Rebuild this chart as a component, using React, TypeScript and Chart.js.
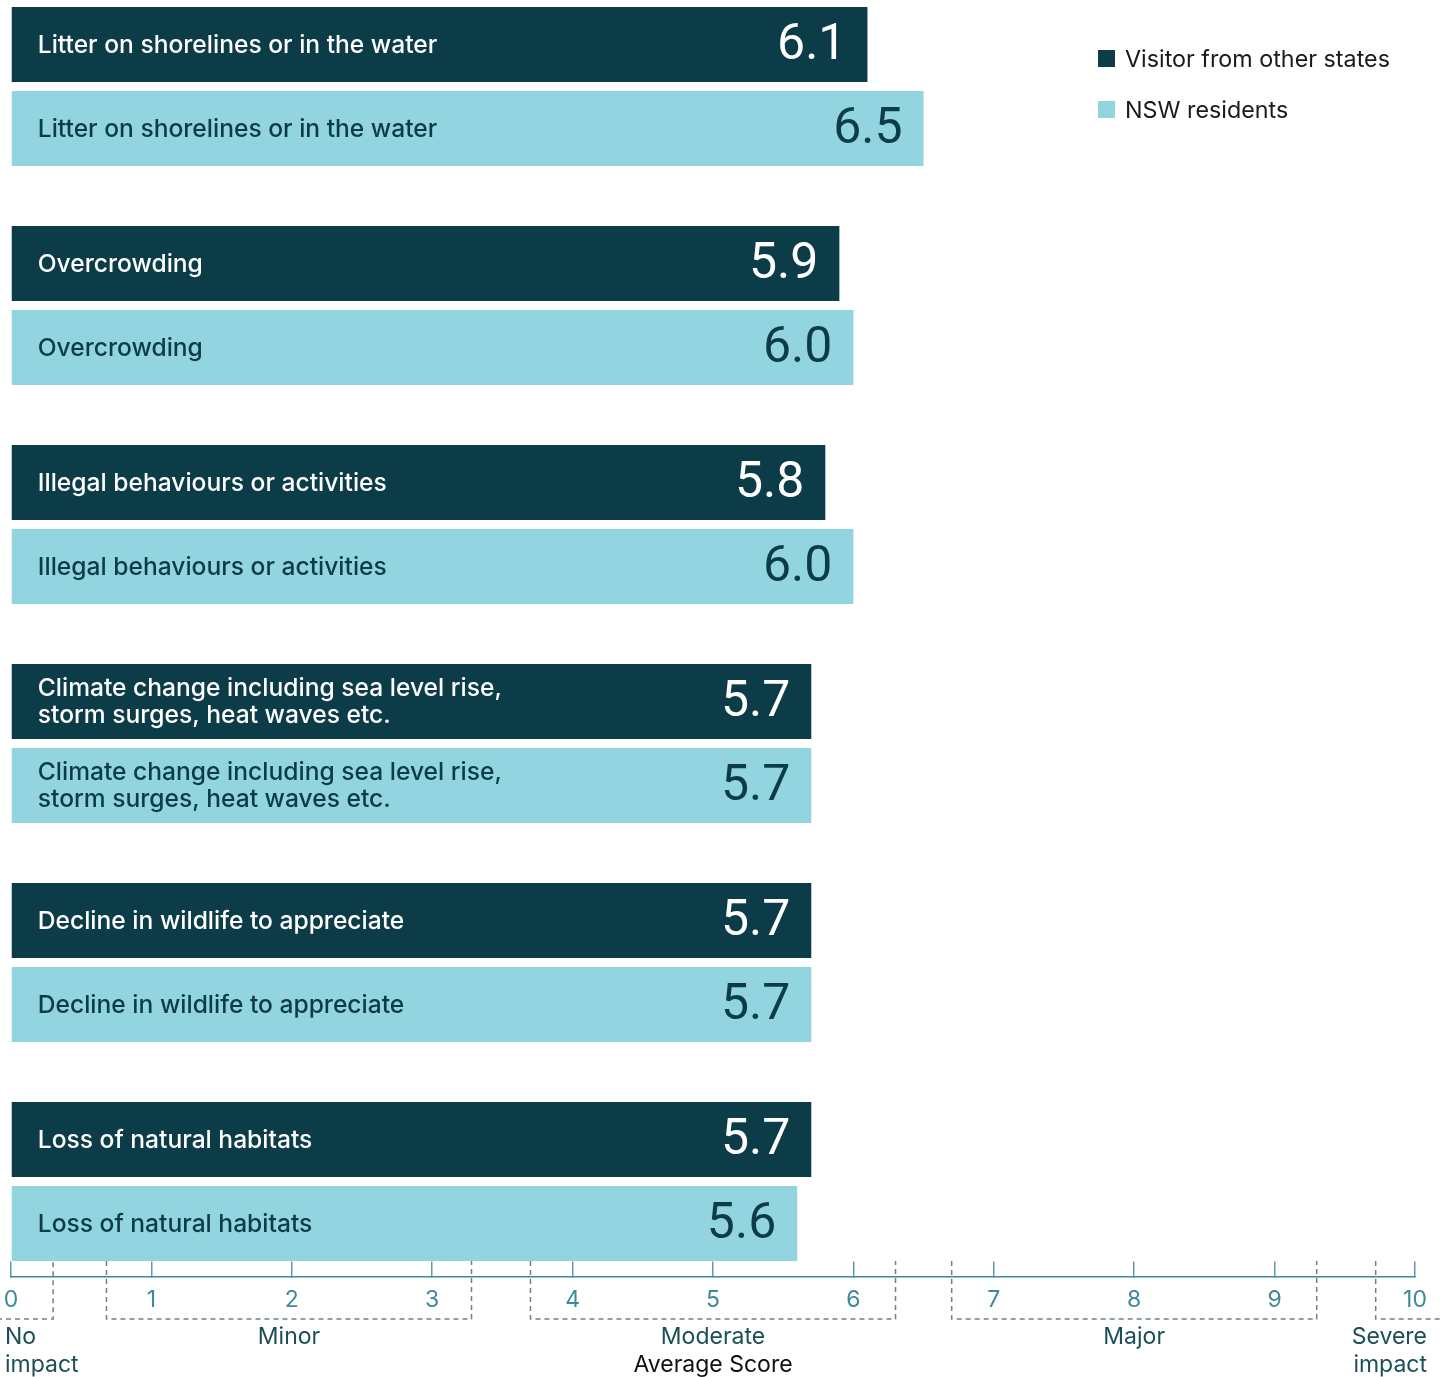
import React, { useEffect, useRef } from "react";
import { Chart, registerables } from "chart.js";

Chart.register(...registerables);

const categories: string[][] = [
  ["Litter on shorelines or in the water"],
  ["Overcrowding"],
  ["Illegal behaviours or activities"],
  ["Climate change including sea level rise,", "storm surges, heat waves etc."],
  ["Decline in wildlife to appreciate"],
  ["Loss of natural habitats"],
];
const visitorValues: number[] = [6.1, 5.9, 5.8, 5.7, 5.7, 5.7];
const nswValues: number[] = [6.5, 6.0, 6.0, 5.7, 5.7, 5.6];
const seriesNames: string[] = ["Visitor from other states", "NSW residents"];
const xTicks: number[] = [0, 1, 2, 3, 4, 5, 6, 7, 8, 9, 10];
const impactBands: { label: string[]; from: number; to: number; align: string }[] = [
  { label: ["No", "impact"], from: -0.1, to: 0.3, align: "left" },
  { label: ["Minor"], from: 0.68, to: 3.28, align: "center" },
  { label: ["Moderate"], from: 3.7, to: 6.3, align: "center" },
  { label: ["Major"], from: 6.7, to: 9.3, align: "center" },
  { label: ["Severe", "impact"], from: 9.72, to: 10.3, align: "right" },
];
const axisTitle = "Average Score";

const DARK = "#0b3c47";
const LIGHT = "#92d5e0";
const TEAL = "#3d8a98";
const LABEL_FONT = "Inter";
const VALUE_FONT = "Roboto";

export default function App() {
  const ref = useRef<HTMLCanvasElement | null>(null);

  useEffect(() => {
    if (!ref.current) return;
    const axisPos = 5.436;

    const barLabels = {
      id: "barLabels",
      afterDatasetsDraw(chart: any) {
        const ctx = chart.ctx;
        ctx.save();
        chart.data.datasets.forEach((ds: any, di: number) => {
          const meta = chart.getDatasetMeta(di);
          const textColor = di === 0 ? "#ffffff" : DARK;
          meta.data.forEach((el: any, i: number) => {
            const lines = categories[i];
            const start = Math.min(el.x, el.base);
            const end = Math.max(el.x, el.base);
            ctx.fillStyle = textColor;
            ctx.font = `500 24.6px ${LABEL_FONT}`;
            ctx.textAlign = "left";
            ctx.textBaseline = "middle";
            const lh = 27;
            lines.forEach((line, li) => {
              ctx.fillText(line, start + 26, el.y + 1 + (li - (lines.length - 1) / 2) * lh);
            });
            ctx.font = `400 50px ${VALUE_FONT}`;
            ctx.textAlign = "right";
            ctx.fillText(Number(ds.data[i]).toFixed(1), end - 21, el.y + 2);
          });
        });
        ctx.restore();
      },
    };

    const extras = {
      id: "extras",
      afterDraw(chart: any) {
        const ctx = chart.ctx;
        const xs = chart.scales.x;
        const ys = chart.scales.y;
        const axisY = ys.getPixelForValue(axisPos);
        ctx.save();
        ctx.strokeStyle = "#6b8388";
        ctx.lineWidth = 1.5;
        ctx.setLineDash([5, 4]);
        const top = axisY - 16;
        const bot = axisY + 42;
        impactBands.forEach((b) => {
          const x1 = xs.getPixelForValue(b.from);
          const x2 = xs.getPixelForValue(b.to);
          ctx.beginPath();
          if (b.align !== "left") {
            ctx.moveTo(x1, top);
            ctx.lineTo(x1, bot);
          } else {
            ctx.moveTo(x1, bot);
          }
          ctx.lineTo(x2, bot);
          if (b.align !== "right") ctx.lineTo(x2, top);
          ctx.stroke();
        });
        ctx.setLineDash([]);
        ctx.fillStyle = "#1a4f58";
        ctx.font = `400 23px ${LABEL_FONT}`;
        ctx.textBaseline = "middle";
        impactBands.forEach((b) => {
          let x: number;
          if (b.align === "left") {
            x = xs.getPixelForValue(0) - 6;
            ctx.textAlign = "left";
          } else if (b.align === "right") {
            x = xs.getPixelForValue(10) + 12;
            ctx.textAlign = "right";
          } else {
            x = xs.getPixelForValue((b.from + b.to) / 2);
            ctx.textAlign = "center";
          }
          b.label.forEach((line, li) => {
            ctx.fillText(line, x, axisY + 60 + li * 28);
          });
        });
        ctx.fillStyle = "#111111";
        ctx.textAlign = "center";
        ctx.fillText(axisTitle, (xs.left + xs.right) / 2, axisY + 88);
        const lx = 1098;
        const ly = [59 + 23, 110 + 23];
        chart.data.datasets.forEach((ds: any, di: number) => {
          ctx.fillStyle = ds.backgroundColor;
          ctx.fillRect(lx, ly[di] - 9, 17, 17);
          ctx.fillStyle = "#1a1a1a";
          ctx.font = `400 23.3px ${LABEL_FONT}`;
          ctx.textAlign = "left";
          ctx.textBaseline = "middle";
          ctx.fillText(ds.label, lx + 27, ly[di] + 1);
        });
        ctx.restore();
      },
    };

    const chart = new Chart(ref.current, {
      type: "bar",
      data: {
        labels: categories.map((c) => c.join(" ")),
        datasets: [
          { label: seriesNames[0], data: visitorValues, backgroundColor: DARK },
          { label: seriesNames[1], data: nswValues, backgroundColor: LIGHT },
        ],
      },
      options: {
        indexAxis: "y",
        animation: false,
        responsive: false,
        events: [],
        categoryPercentage: 168 / 219,
        barPercentage: 75 / 84,
        layout: { padding: { left: 11, right: 28, top: 0, bottom: 86 } },
        plugins: {
          legend: { display: false },
          tooltip: { enabled: false },
        },
        scales: {
          y: { type: "category", display: false, offset: true },
          x: {
            type: "linear",
            min: 0,
            max: 10,
            position: { y: axisPos } as any,
            afterBuildTicks: (scale: any) => {
              scale.ticks = xTicks.map((v) => ({ value: v }));
            },
            grid: {
              drawOnChartArea: false,
              drawTicks: true,
              tickLength: -16,
              color: "#5c9ea8",
              lineWidth: 1.5,
            },
            border: { display: true, color: TEAL, width: 1.5 },
            ticks: {
              color: TEAL,
              font: { family: LABEL_FONT, size: 23, weight: "400" as any, lineHeight: "74px" as any },
              padding: 2,
              maxRotation: 0,
            },
            title: { display: false },
          },
        },
      },
      plugins: [barLabels, extras],
    });
    return () => chart.destroy();
  }, []);

  return (
    <div style={{ position: "absolute", left: 0, top: -23, width: 1443, height: 1400 }}>
      <canvas ref={ref} width={1443} height={1400} />
    </div>
  );
}
